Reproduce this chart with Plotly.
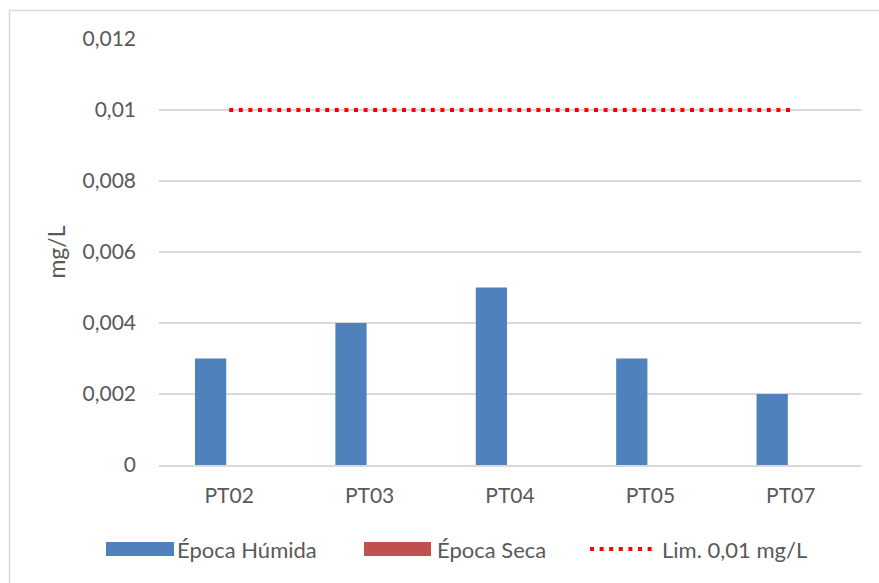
import plotly.graph_objects as go

# Sampling points and measured concentrations (mg/L)
puntos = ["PT02", "PT03", "PT04", "PT05", "PT07"]
epoca_humida = [0.003, 0.004, 0.005, 0.003, 0.002]
epoca_seca = [0, 0, 0, 0, 0]
limite = [0.01, 0.01, 0.01, 0.01, 0.01]

y_ticks = [0, 0.002, 0.004, 0.006, 0.008, 0.01, 0.012]
y_tick_labels = ["0", "0,002", "0,004", "0,006", "0,008", "0,01", "0,012"]

nombres = ["Época Húmida", "Época Seca", "Lim. 0,01 mg/L"]

AZUL = "#4F81BD"
ROJO = "#C0504D"
LINEA = "#FF0000"
GRIS_TXT = "#595959"
GRIS_GRID = "#D9D9D9"
FUENTE = "Lato, 'Open Sans', sans-serif"
DOT = "4px,5.6px"

W, H = 879, 583
ML, MR, MT, MB = 159, 18, 39, 118
PW, PH = W - ML - MR, H - MT - MB


def px_x(x):
    return (x - ML) / PW


def px_y(y):
    return (H - MB - y) / PH


fig = go.Figure()
fig.add_trace(go.Bar(x=puntos, y=epoca_humida, name=nombres[0],
                     marker=dict(color=AZUL, line=dict(width=0)),
                     showlegend=False))
fig.add_trace(go.Bar(x=puntos, y=epoca_seca, name=nombres[1],
                     marker=dict(color=ROJO, line=dict(width=0)),
                     showlegend=False))
fig.add_trace(go.Scatter(x=puntos, y=limite, name=nombres[2], mode="lines",
                         line=dict(color=LINEA, width=4, dash=DOT),
                         showlegend=False))

# Legend drawn below the plot: swatches plus labels
shapes = [
    dict(type="rect", xref="paper", yref="paper",
         x0=px_x(9.5), x1=px_x(900), y0=px_y(600), y1=px_y(10.5),
         line=dict(color=GRIS_GRID, width=1.5), fillcolor="rgba(0,0,0,0)",
         layer="below"),
    dict(type="rect", xref="paper", yref="paper",
         x0=px_x(106), x1=px_x(174), y0=px_y(556), y1=px_y(542),
         line=dict(width=0), fillcolor=AZUL),
    dict(type="rect", xref="paper", yref="paper",
         x0=px_x(364), x1=px_x(431), y0=px_y(556), y1=px_y(542),
         line=dict(width=0), fillcolor=ROJO),
    dict(type="line", xref="paper", yref="paper",
         x0=px_x(590), x1=px_x(654), y0=px_y(549), y1=px_y(549),
         line=dict(color=LINEA, width=4, dash=DOT)),
]
annotations = []
for nombre, x0 in zip(nombres, [175, 435, 660]):
    annotations.append(dict(text=nombre, xref="paper", yref="paper",
                            x=px_x(x0), y=px_y(549), xanchor="left",
                            yanchor="middle", showarrow=False,
                            font=dict(family=FUENTE, size=22, color=GRIS_TXT)))

fig.update_layout(
    width=W, height=H,
    margin=dict(l=ML, r=MR, t=MT, b=MB, pad=0),
    paper_bgcolor="white", plot_bgcolor="white",
    barmode="group", bargap=0.47, bargroupgap=0.16,
    font=dict(family=FUENTE, size=21, color=GRIS_TXT),
    shapes=shapes, annotations=annotations,
    showlegend=False,
)
fig.update_xaxes(showline=True, linecolor=GRIS_GRID, linewidth=1.5,
                 showgrid=False, ticks="", ticklabelstandoff=11,
                 tickfont=dict(size=21, color=GRIS_TXT))
fig.update_yaxes(range=[0, 0.012], tickvals=y_ticks, ticktext=y_tick_labels,
                 showgrid=True, gridcolor=GRIS_GRID, gridwidth=1.5,
                 zeroline=False, showline=False, ticks="",
                 ticklabelstandoff=22,
                 tickfont=dict(size=21, color=GRIS_TXT),
                 title=dict(text="mg/L", standoff=10,
                            font=dict(size=23, color=GRIS_TXT)))

fig.write_html("out.html")
